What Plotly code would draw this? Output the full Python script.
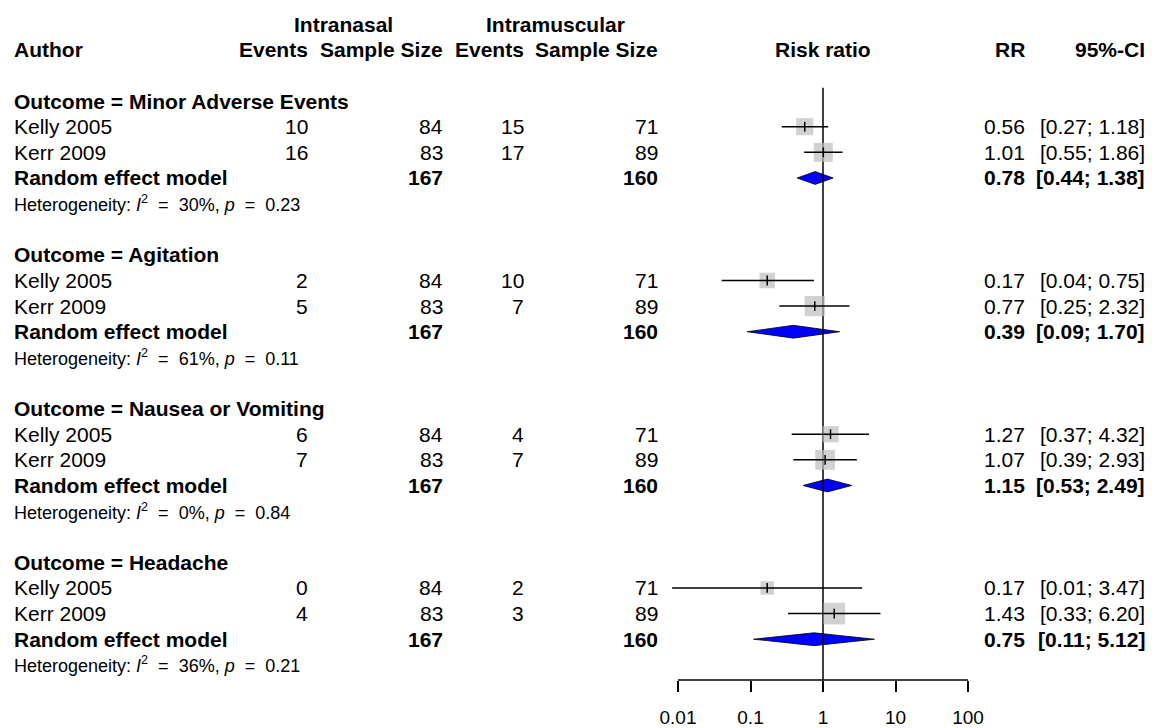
import numpy as np
import plotly.graph_objects as go

# ---------------- data ----------------
subgroups = ["Minor Adverse Events", "Agitation", "Nausea or Vomiting", "Headache"]
studies = ["Kelly 2005", "Kerr 2009"]
in_events = [[10, 16], [2, 5], [6, 7], [0, 4]]
in_n = [[84, 83], [84, 83], [84, 83], [84, 83]]
im_events = [[15, 17], [10, 7], [4, 7], [2, 3]]
im_n = [[71, 89], [71, 89], [71, 89], [71, 89]]
rr = [[0.56, 1.01], [0.17, 0.77], [1.27, 1.07], [0.17, 1.43]]
rr_lo = [[0.27, 0.55], [0.04, 0.25], [0.37, 0.39], [0.0083, 0.33]]
rr_hi = [[1.18, 1.86], [0.75, 2.32], [4.32, 2.93], [3.47, 6.20]]
weights = [[44.5, 55.5], [37, 63], [40, 60], [28, 72]]
pooled_rr = [0.78, 0.39, 1.15, 0.75]
pooled_lo = [0.44, 0.09, 0.53, 0.11]
pooled_hi = [1.38, 1.70, 2.49, 5.12]
het_i2 = [30, 61, 0, 36]
het_p = [0.23, 0.11, 0.84, 0.21]
tick_vals = [0.01, 0.1, 1, 10, 100]
tick_text = ["0.01", "0.1", "1", "10", "100"]

# ---------------- layout helpers ----------------
W, H = 1152, 728
FONT = "Liberation Sans, Arial, sans-serif"
FS = 21
FS_HET = 18
ROW0_PX, PITCH = 50.0, 25.7
PLOT_BOTTOM_PX = 682.0
y_top = -ROW0_PX / PITCH
y_bot = (PLOT_BOTTOM_PX - ROW0_PX) / PITCH
# x: log axis spanning full width; 0.01 at px 678, 100 at px 968
PX_DEC = (968 - 678) / 4.0
x_lo_log = -2 - 678 / PX_DEC
x_hi_log = 2 + (W - 968) / PX_DEC


def px(x):
    return x / W


annotations = []


def txt(x_px, row, text, anchor="left", bold=False, size=FS):
    if bold:
        text = "<b>" + text + "</b>"
    annotations.append(dict(
        x=px(x_px), xref="paper", y=row, yref="y", text=text,
        xanchor=anchor, yanchor="middle", showarrow=False,
        font=dict(family=FONT, size=size, color="black")))


# column anchors (px)
C_AUTH = 12
C_INE = 310
C_INN = 445
C_IME = 526
C_IMN = 660
C_RR = 1027
C_CI = 1147
C_PLOT = 823

# headers
txt(343, -1, "Intranasal", "center", True)
txt(555, -1, "Intramuscular", "center", True)
txt(C_AUTH, 0, "Author", "left", True)
txt(C_INE, 0, "Events", "right", True)
txt(C_INN, 0, "Sample Size", "right", True)
txt(C_IME, 0, "Events", "right", True)
txt(C_IMN, 0, "Sample Size", "right", True)
txt(C_PLOT, 0, "Risk ratio", "center", True)
txt(C_RR, 0, "RR", "right", True)
txt(C_CI, 0, "95%-CI", "right", True)

sq_x, sq_y, sq_s = [], [], []
ci_x, ci_y = [], []
fig = go.Figure()
SP = "&nbsp;"

for g, name in enumerate(subgroups):
    base = 2 + 6 * g
    txt(C_AUTH, base, "Outcome = " + name, "left", True)
    for s, st in enumerate(studies):
        r = base + 1 + s
        txt(C_AUTH, r, st)
        txt(C_INE, r, str(in_events[g][s]), "right")
        txt(C_INN, r, str(in_n[g][s]), "right")
        txt(C_IME, r, str(im_events[g][s]), "right")
        txt(C_IMN, r, str(im_n[g][s]), "right")
        txt(C_RR, r, f"{rr[g][s]:.2f}", "right")
        txt(C_CI, r, f"[{rr_lo[g][s]:.2f}; {rr_hi[g][s]:.2f}]", "right")
        sq_x.append(rr[g][s]); sq_y.append(r); sq_s.append(2.55 * np.sqrt(weights[g][s]))
        ci_x += [rr_lo[g][s], rr_hi[g][s], None]
        ci_y += [r, r, None]
    rp = base + 3
    txt(C_AUTH, rp, "Random effect model", "left", True)
    txt(C_INN, rp, str(sum(in_n[g])), "right", True)
    txt(C_IMN, rp, str(sum(im_n[g])), "right", True)
    txt(C_RR, rp, f"{pooled_rr[g]:.2f}", "right", True)
    txt(C_CI, rp, f"[{pooled_lo[g]:.2f}; {pooled_hi[g]:.2f}]", "right", True)
    het = (f"Heterogeneity: <i>I</i><sup>2</sup>{SP*2}={SP*2}{het_i2[g]}%,{SP}"
           f"<i>p</i>{SP*2}={SP*2}{het_p[g]:.2f}")
    txt(C_AUTH, base + 4, het, "left", False, FS_HET)
    hh = 0.25
    fig.add_trace(go.Scatter(
        x=[pooled_lo[g], pooled_rr[g], pooled_hi[g], pooled_rr[g], pooled_lo[g]],
        y=[rp, rp - hh, rp, rp + hh, rp], mode="lines", fill="toself",
        fillcolor="#0000FF", line=dict(color="black", width=0.8),
        hoverinfo="skip", showlegend=False))

# reference line at RR = 1
fig.add_trace(go.Scatter(x=[1, 1], y=[(88 - ROW0_PX) / PITCH, y_bot], mode="lines",
                         line=dict(color="black", width=1.5), showlegend=False, hoverinfo="skip"))
# squares
fig.add_trace(go.Scatter(x=sq_x, y=sq_y, mode="markers",
                         marker=dict(symbol="square", size=sq_s, color="#BEBEBE", line=dict(width=0)),
                         showlegend=False, hoverinfo="skip"))
# CI lines
fig.add_trace(go.Scatter(x=ci_x, y=ci_y, mode="lines", line=dict(color="black", width=1.5),
                         showlegend=False, hoverinfo="skip"))
# centre ticks
fig.add_trace(go.Scatter(x=sq_x, y=sq_y, mode="markers",
                         marker=dict(symbol="line-ns", size=7, line=dict(color="black", width=1.5)),
                         showlegend=False, hoverinfo="skip"))

# axis baseline from first to last tick
fig.add_shape(type="line", xref="x", yref="y domain",
              x0=tick_vals[0], x1=tick_vals[-1], y0=0, y1=0,
              line=dict(color="black", width=1.5))

fig.update_layout(
    width=W, height=H,
    margin=dict(l=0, r=0, t=0, b=H - PLOT_BOTTOM_PX, pad=0),
    paper_bgcolor="white", plot_bgcolor="white",
    annotations=annotations,
    xaxis=dict(type="log", range=[x_lo_log, x_hi_log], tickvals=tick_vals, ticktext=tick_text,
               ticks="outside", ticklen=11, tickwidth=1.5, tickcolor="black",
               showgrid=False, zeroline=False, showline=False,
               tickfont=dict(family=FONT, size=19, color="black"), ticklabelstandoff=9),
    yaxis=dict(range=[y_bot, y_top], showgrid=False, zeroline=False, showline=False,
               showticklabels=False, ticks=""),
)

fig.write_html("out.html", config={"displayModeBar": False},
               post_script="document.body.style.margin='0';document.body.style.overflow='hidden';")
